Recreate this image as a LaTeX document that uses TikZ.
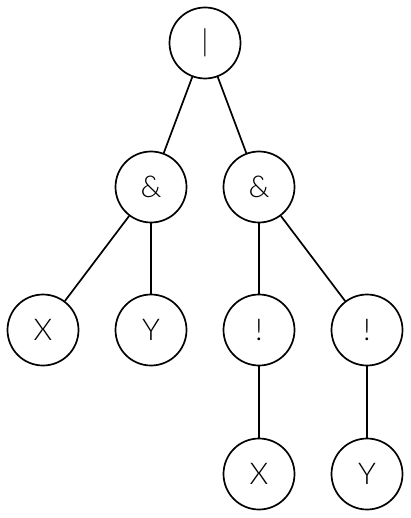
\documentclass[tikz,border=0pt]{standalone}
\usepackage{fontspec}
\setmainfont{Lato}[UprightFont=* Light]
\begin{document}
\begin{tikzpicture}[x=1pt,y=-1pt,
  tn/.style={draw=black,circle,line width=1.7pt,minimum size=71pt,inner sep=0pt,font=\fontsize{30}{30}\selectfont},
  edge/.style={line width=1.7pt}]
\useasboundingbox (0,0) rectangle (410,518);
\node[tn] (root) at (205,43) {|};
\node[tn] (a1) at (151,187) {\&};
\node[tn] (a2) at (259,187) {\&};
\node[tn] (x1) at (43,330) {X};
\node[tn] (y1) at (151,330) {Y};
\node[tn] (n1) at (259,330) {!};
\node[tn] (n2) at (367,330) {!};
\node[tn] (x2) at (259,474) {X};
\node[tn] (y2) at (367,474) {Y};
\draw[edge] (root) -- (a1);
\draw[edge] (root) -- (a2);
\draw[edge] (a1) -- (x1);
\draw[edge] (a1) -- (y1);
\draw[edge] (a2) -- (n1);
\draw[edge] (a2) -- (n2);
\draw[edge] (n1) -- (x2);
\draw[edge] (n2) -- (y2);
\end{tikzpicture}
\end{document}
